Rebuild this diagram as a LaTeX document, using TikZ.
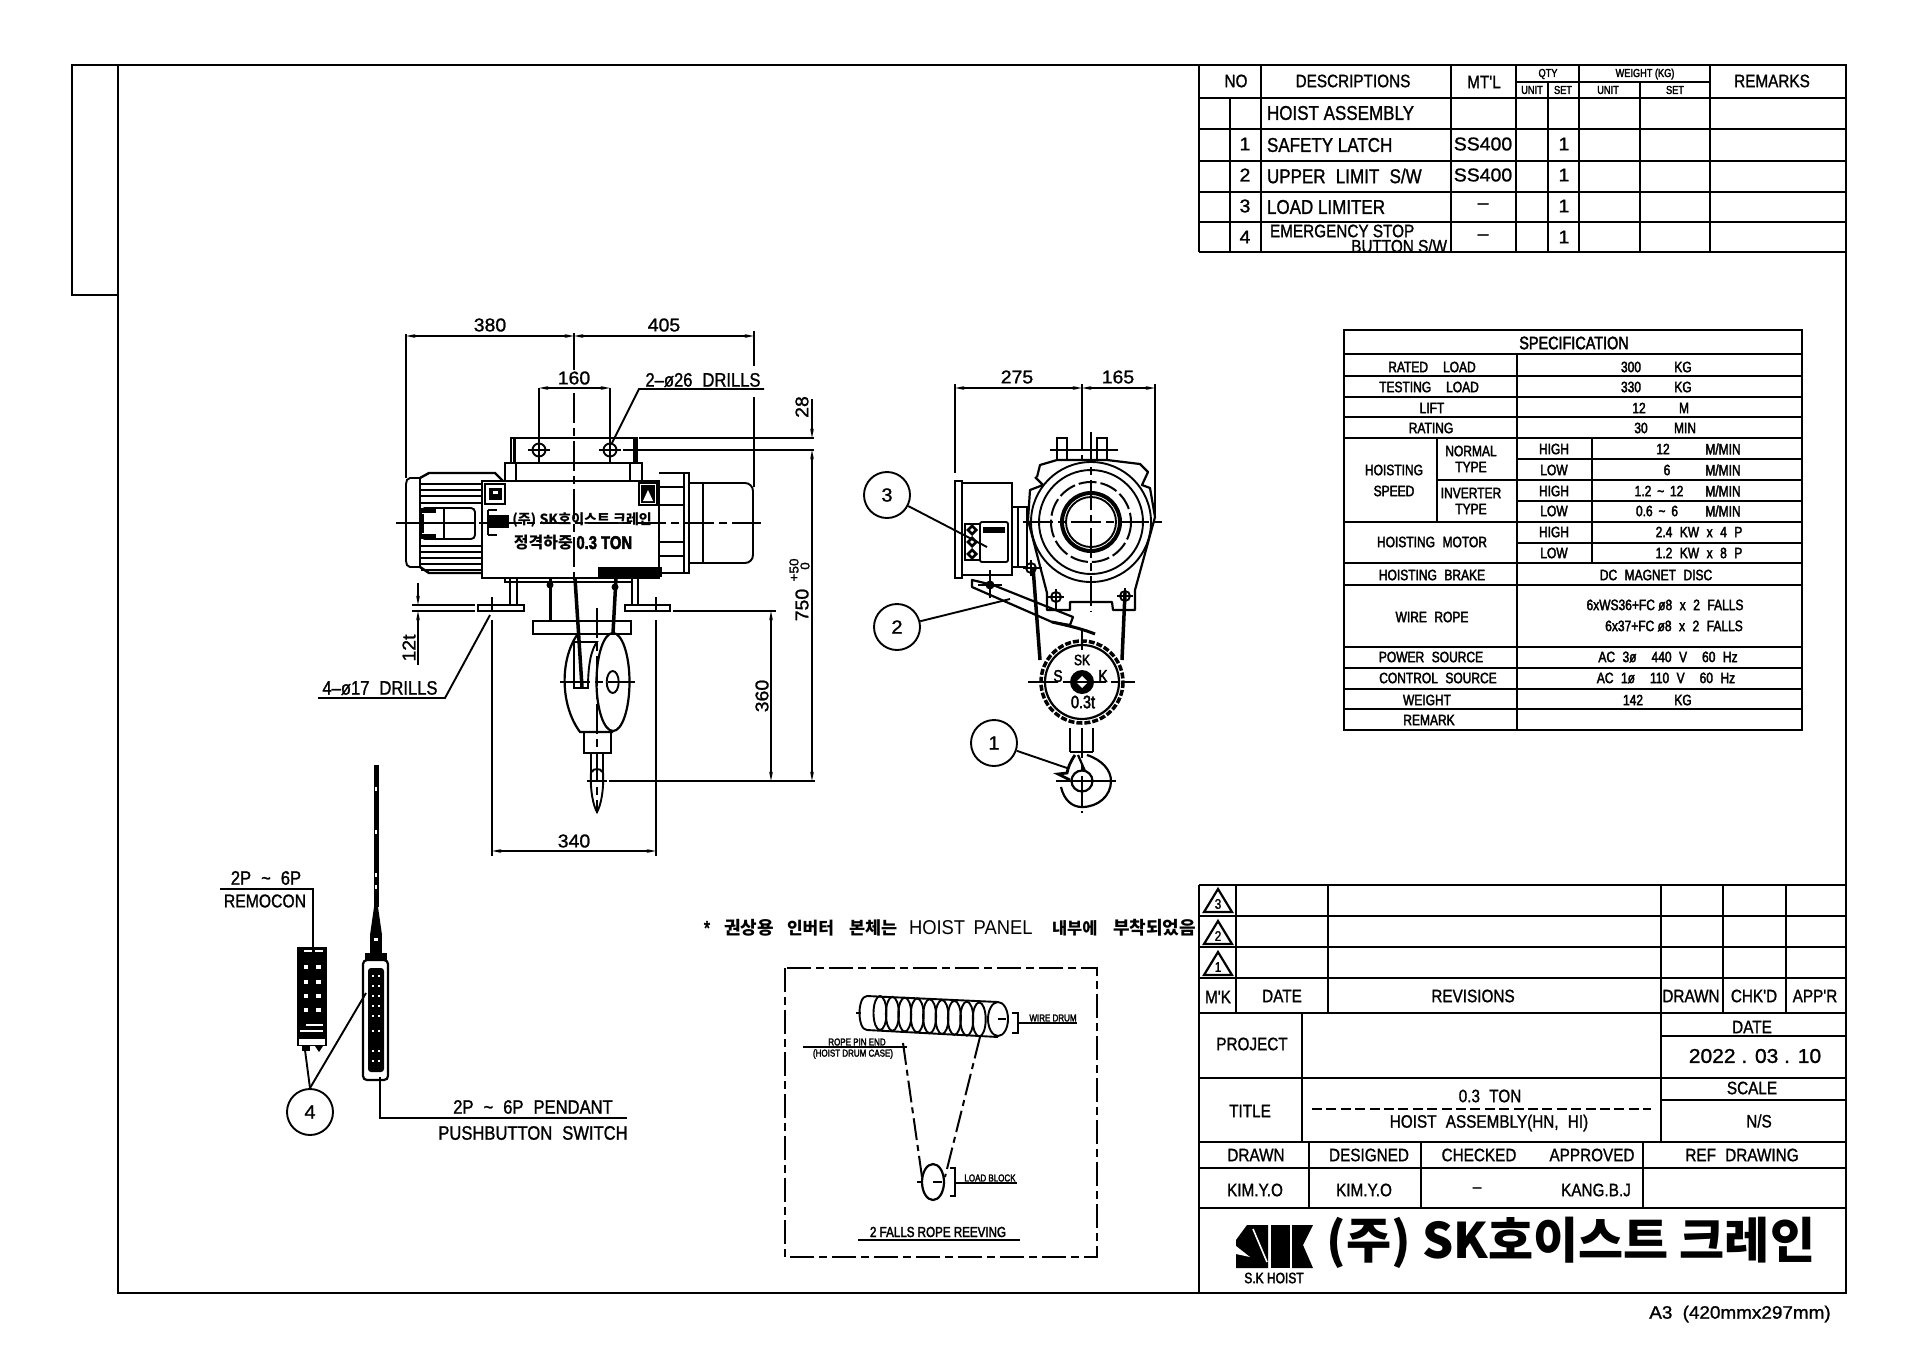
\documentclass[tikz,border=0pt]{standalone}
\usepackage{fontspec}
\usetikzlibrary{arrows.meta}
\newfontfamily\cad[FakeStretch=.85,FakeBold=1.2]{Liberation Sans}
\newfontfamily\cadb[FakeStretch=.8,FakeBold=2.4]{Liberation Sans}
\newfontfamily\cadw[FakeStretch=1.05,FakeBold=1.2]{Liberation Sans}
\newfontfamily\cadr[FakeStretch=.92]{Liberation Sans}
\newfontfamily\kr{Noto Sans CJK KR}
\newcommand{\fz}[1]{\fontsize{#1}{#1}\selectfont}
\newcounter{tn}
\newcommand{\tx}[3][]{\stepcounter{tn}\node[txt,#1] (t\arabic{tn}) at (#2) {#3};}
\tikzset{
  txt/.style={inner sep=0pt,outer sep=0pt,font=\cad\fz{16},text=black},
  dimt/.style={font=\cad\fz{19.5}},
  dimd/.style={font=\cadw\fz{18.5}},
  spect/.style={font=\cadb\fz{15}},
  tiny/.style={font=\cadb\fz{11.5}},
  micro/.style={font=\cadb\fz{10}},
  ttb/.style={font=\cad\fz{18}},
  rowt/.style={font=\cad\fz{20}},
  rot/.style={rotate=90},
  frame/.style={line width=2.8pt,black},
  grid/.style={line width=2.2pt,black},
  ln/.style={line width=1.9pt,black},
  thk/.style={line width=3.2pt,black},
  dm/.style={line width=1.7pt,black,{Stealth[length=9pt,width=3.5pt]}-{Stealth[length=9pt,width=3.5pt]}},
  dmone/.style={line width=1.7pt,black,-{Stealth[length=9pt,width=3.5pt]}},
  ctr/.style={line width=1.6pt,black,dash pattern=on 30pt off 5pt on 8pt off 5pt},
  brk/.style={line width=2pt,black,dash pattern=on 24pt off 5pt on 8pt off 5pt},
  balloon/.style={circle,draw=black,line width=1.9pt,minimum size=46pt,inner sep=0pt,font=\cadw\fz{19}},
}
\begin{document}
\begin{tikzpicture}[x=1pt,y=-1pt]
\path[use as bounding box,fill=white] (0,0) rectangle (1920,1358);
% ---------- frame
\draw[frame] (118,65) rectangle (1846,1293);
\draw[frame] (118,65) -- (72,65) -- (72,295) -- (118,295);
% ---------- parts table
\draw[frame] (1199,252) -- (1199,65) -- (1846,65);
\draw[frame] (1199,252) -- (1846,252);
\foreach \y in {98,129,161,192,222} \draw[grid] (1199,\y) -- (1846,\y);
\draw[grid] (1230,98) -- (1230,252);
\foreach \x in {1261,1451,1516,1710} \draw[grid] (\x,65) -- (\x,252);
\foreach \x in {1548,1579,1640} \draw[grid] (\x,82) -- (\x,252);
\draw[grid] (1579,65) -- (1579,82);
\draw[grid] (1516,82) -- (1710,82);
\tx[ttb]{1236,81}{NO}\tx[ttb]{1353,81}{DESCRIPTIONS}\tx[ttb]{1484,82}{MT'L}\tx[ttb]{1772,81}{REMARKS}
\tx[tiny]{1548,74}{QTY}\tx[tiny]{1645,74}{WEIGHT (KG)}
\tx[tiny]{1532,90}{UNIT}\tx[tiny]{1563,90}{SET}\tx[tiny]{1608,90}{UNIT}\tx[tiny]{1675,90}{SET}
\tx[rowt,anchor=west]{1267,113}{HOIST ASSEMBLY}
\tx[rowt,anchor=west]{1267,145}{SAFETY LATCH}
\tx[rowt,anchor=west]{1267,176}{UPPER\; LIMIT\; S/W}
\tx[rowt,anchor=west]{1267,207}{LOAD LIMITER}
\tx[ttb,anchor=west]{1270,231}{EMERGENCY STOP}
\tx[ttb,anchor=east]{1447,246}{BUTTON S/W}
\tx[dimd]{1245,144}{1}\tx[dimd]{1245,175}{2}\tx[dimd]{1245,206}{3}\tx[dimd]{1245,237}{4}
\tx[dimd]{1483,144}{SS400}\tx[dimd]{1483,175}{SS400}\tx[dimd]{1483,206}{–}\tx[dimd]{1483,237}{–}
\tx[dimd]{1564,144}{1}\tx[dimd]{1564,175}{1}\tx[dimd]{1564,206}{1}\tx[dimd]{1564,237}{1}
% ---------- specification table
\draw[grid] (1344,330) rectangle (1802,730);
\foreach \y in {354,376,397,417,438,522,563,585,647,668,689,709} \draw[grid] (1344,\y) -- (1802,\y);
\draw[grid] (1517,354) -- (1517,730);
\draw[grid] (1437,438) -- (1437,522);
\draw[grid] (1437,480) -- (1517,480);
\foreach \y in {459,480,501,522,543} \draw[grid] (1517,\y) -- (1802,\y);
\draw[grid] (1592,438) -- (1592,563);
\tx[font=\cadb\fz{18}]{1574,343}{SPECIFICATION}
\tx[spect]{1432,367}{RATED\quad LOAD}\tx[spect]{1429,387}{TESTING\quad LOAD}\tx[spect]{1432,408}{LIFT}\tx[spect]{1431,428}{RATING}
\tx[spect]{1631,367}{300}\tx[spect]{1683,367}{KG}\tx[spect]{1631,387}{330}\tx[spect]{1683,387}{KG}
\tx[spect]{1639,408}{12}\tx[spect]{1684,408}{M}\tx[spect]{1641,428}{30}\tx[spect]{1685,428}{MIN}
\tx[spect]{1394,470}{HOISTING}\tx[spect]{1394,491}{SPEED}
\tx[spect]{1471,451}{NORMAL}\tx[spect]{1471,467}{TYPE}\tx[spect]{1471,493}{INVERTER}\tx[spect]{1471,509}{TYPE}
\tx[spect]{1554,449}{HIGH}\tx[spect]{1554,470}{LOW}\tx[spect]{1554,491}{HIGH}\tx[spect]{1554,511}{LOW}\tx[spect]{1554,532}{HIGH}\tx[spect]{1554,553}{LOW}
\tx[spect]{1663,449}{12}\tx[spect]{1667,470}{6}\tx[spect]{1659,491}{1.2 \,\~{}\, 12}\tx[spect]{1657,511}{0.6 \,\~{}\, 6}
\tx[spect]{1723,449}{M/MIN}\tx[spect]{1723,470}{M/MIN}\tx[spect]{1723,491}{M/MIN}\tx[spect]{1723,511}{M/MIN}
\tx[spect]{1699,532}{2.4\; KW\; x\; 4\; P}\tx[spect]{1699,553}{1.2\; KW\; x\; 8\; P}
\tx[spect]{1432,542}{HOISTING\; MOTOR}\tx[spect]{1432,575}{HOISTING\; BRAKE}\tx[spect]{1656,575}{DC\; MAGNET\; DISC}
\tx[spect]{1432,617}{WIRE\; ROPE}
\tx[spect]{1665,605}{6xWS36+FC ø8\; x\; 2\; FALLS}\tx[spect]{1674,626}{6x37+FC ø8\; x\; 2\; FALLS}
\tx[spect]{1431,657}{POWER\; SOURCE}\tx[spect]{1668,657}{AC\; 3ø\quad 440\; V\quad 60\; Hz}
\tx[spect]{1438,678}{CONTROL\; SOURCE}\tx[spect]{1666,678}{AC\; 1ø\quad 110\; V\quad 60\; Hz}
\tx[spect]{1427,700}{WEIGHT}\tx[spect]{1633,700}{142}\tx[spect]{1683,700}{KG}\tx[spect]{1429,720}{REMARK}
% ---------- title block
\draw[frame] (1199,885) -- (1846,885);
\draw[frame] (1199,885) -- (1199,1293);
\foreach \y in {916,947,978,1013,1078,1142,1208} \draw[grid] (1199,\y) -- (1846,\y);
\foreach \x in {1236,1328,1723,1786} \draw[grid] (\x,885) -- (\x,1013);
\draw[grid] (1661,885) -- (1661,1142);
\draw[grid] (1302,1013) -- (1302,1142);
\draw[grid] (1661,1036) -- (1846,1036);
\draw[grid] (1661,1100) -- (1846,1100);
\draw[grid] (1199,1168) -- (1846,1168);
\foreach \x in {1309,1421,1643} \draw[grid] (\x,1142) -- (\x,1208);
\foreach \c/\n in {889/3,921/2,952/1}{
  \draw[line width=2.2pt,line join=miter] (1218,\c) -- (1232,\c+23) -- (1204,\c+23) -- cycle;
  \tx[font=\cad\fz{14}]{1218,\c+15}{\n}
}
\tx[ttb]{1218,997}{M'K}\tx[ttb]{1282,996}{DATE}\tx[ttb]{1473,996}{REVISIONS}\tx[ttb]{1691,996}{DRAWN}\tx[ttb]{1754,996}{CHK'D}\tx[ttb]{1815,996}{APP'R}
\tx[ttb]{1252,1044}{PROJECT}\tx[ttb]{1752,1027}{DATE}\tx[font=\cadw\fz{20}]{1755,1056}{2022 . 03 . 10}
\tx[ttb]{1752,1088}{SCALE}\tx[ttb]{1759,1121}{N/S}\tx[ttb]{1250,1111}{TITLE}\tx[ttb]{1490,1096}{0.3\; TON}
\tx[ttb]{1489,1123}{HOIST\; ASSEMBLY(HN,\; HI)}
\coordinate (dashL) at (1312,1109);\coordinate (dashR) at (1651,1109);
\draw[line width=2pt,dash pattern=on 10pt off 4.4pt] (dashL) -- (dashR);
\tx[ttb]{1256,1155}{DRAWN}\tx[ttb]{1369,1155}{DESIGNED}\tx[ttb]{1479,1155}{CHECKED}\tx[ttb]{1592,1155}{APPROVED}\tx[ttb]{1742,1155}{REF\; DRAWING}
\tx[ttb]{1255,1190}{KIM.Y.O}\tx[ttb]{1364,1190}{KIM.Y.O}\tx[ttb]{1477,1190}{–}\tx[ttb]{1596,1190}{KANG.B.J}
% logo
\fill[black] (1247,1225) -- (1268,1225) -- (1268,1268) -- (1236,1268) -- (1236,1240) -- cycle;
\draw[white,line width=1.6pt] (1253,1229) -- (1267,1262);
\fill[white] (1236,1246) -- (1250,1257) -- (1236,1254) -- cycle;
\fill[black] (1271,1225) rectangle (1290,1268);
\fill[black] (1292,1225) -- (1313,1225) -- (1303,1245) -- (1313,1268) -- (1292,1268) -- cycle;
\tx[font=\cadb\fz{15}]{1274,1278}{S.K HOIST}
\tx[font=\kr\bfseries\fz{49}]{1571,1243}{(주) SK호이스트 크레인}
\tx[font=\cadw\fz{18}]{1740,1314}{A3\; (420mmx297mm)}
% ---------- note
\tx[font=\cadb\fz{20}]{707,928}{*}
\tx[font=\kr\bfseries\fz{18},anchor=west]{724,928}{권상용}
\tx[font=\kr\bfseries\fz{17},anchor=west]{787,928}{인버터}
\tx[font=\kr\bfseries\fz{17.5},anchor=west]{849,928}{본체는}
\tx[font=\cadr\fz{20},anchor=west]{909,928}{HOIST\, PANEL}
\tx[font=\kr\bfseries\fz{16.5},anchor=west]{1052,928}{내부에}
\tx[font=\kr\bfseries\fz{18},anchor=west]{1113,928}{부착되었음}
% ---------- reeving box
\draw[brk] (785,968) rectangle (1097,1257);
\coordinate (dLa) at (867,996);\coordinate (dLb) at (867,1030);
\draw[ln] (998,1002) -- (dLa) .. controls (857,996) and (857,1030) .. (dLb) -- (998,1037);
\draw[ln] (998,1019) ellipse (10 and 17);
\foreach \i in {0,...,8}{
  \pgfmathsetmacro\cx{880+\i*12.4}
  \pgfmathsetmacro\cy{1013+\i*0.8}
  \draw[ln] (\cx,\cy) ellipse (6.5 and 17);
}
\draw[ln] (856,1013) -- (861,1013);
\draw[ln] (998,1019) -- (1006,1019);
\draw[ln] (1012,1013) -- (1018,1013) -- (1018,1033) -- (1012,1033);
\draw[ln] (1018,1023) -- (1077,1023);
\tx[micro]{1053,1018}{WIRE DRUM}
\draw[ln] (803,1047) -- (907,1047);
\tx[micro]{857,1042}{ROPE PIN END}
\tx[micro]{853,1054}{(HOIST DRUM CASE)}
\coordinate (rA) at (903,1043);\coordinate (rB) at (922,1177);\coordinate (rC) at (980,1037);\coordinate (rD) at (945,1177);
\draw[line width=2pt,dash pattern=on 22pt off 5pt on 6pt off 5pt] (rA) -- (rB);
\draw[line width=2pt,dash pattern=on 22pt off 5pt on 6pt off 5pt] (rC) -- (rD);
\draw[line width=2.2pt] (933,1182) ellipse (11 and 18);
\draw[ln] (917,1182) -- (922,1182);
\draw[ln] (933,1182) -- (942,1182);
\draw[ln] (950,1168) -- (955,1168) -- (955,1196) -- (950,1196);
\draw[ln] (955,1183) -- (1017,1183);
\tx[micro]{990,1178}{LOAD BLOCK}
\tx[font=\cadb\fz{14.5}]{938,1232}{2 FALLS ROPE REEVING}
\draw[line width=2.6pt] (858,1240) -- (1020,1240);
% ---------- front view
\draw[dm] (406,336) -- (574,336);
\draw[dm] (574,336) -- (754,336);
\draw[ln] (406,334) -- (406,478);
\draw[ln] (574,333) -- (574,370);
\draw[ln] (754,331) -- (754,366);
\draw[ln] (754,397) -- (754,487);
\tx[dimd]{490,325}{380}\tx[dimd]{664,325}{405}
\draw[dm] (539,388) -- (610,388);
\draw[ln] (539,388) -- (539,463);
\draw[ln] (610,388) -- (610,463);
\tx[dimd]{574,378}{160}
\tx[dimt]{703,380}{2–ø26\; DRILLS}
\coordinate (dr1) at (764,389);\coordinate (dr2) at (639,389);\coordinate (dr3) at (612,443);
\draw[ln] (dr1) -- (dr2) -- (dr3);
% top plate
\draw[line width=2.4pt] (511,438) rectangle (637,463);
\draw[line width=3pt] (514,438) -- (514,463);\draw[line width=3pt] (634,438) -- (634,463);
\foreach \x in {539,610}{
  \draw[ln] (\x,450) circle (6.5);
  \draw[ln] (\x-11,450) -- (\x+11,450);
}
\draw[ln] (639,438) -- (814,438);
\draw[ln] (623,450) -- (814,450);
% columns
\draw[ln] (505,481) -- (505,463) -- (642,463) -- (642,481);
\draw[ln] (516,463) -- (516,481);\draw[ln] (630,463) -- (630,481);
% motor left
\draw[ln,rounded corners=2pt] (420,478) -- (408,478) -- (406,482) -- (406,563) -- (408,567) -- (420,567);
\draw[line width=2.4pt] (420,478) -- (429,473) -- (495,473) -- (503,481);
\draw[line width=2.4pt] (420,567) -- (429,573) -- (482,573);
\draw[ln] (420,478) -- (420,567);
\foreach \y in {484,490,496,503,546,552,558,564,570}{\draw[line width=2.6pt] (421,\y) -- (482,\y);}
\draw[ln,rounded corners=4pt] (421,508) rectangle (475,539);
\draw[ln] (444,508) -- (444,539);\draw[ln] (421,523) -- (475,523);
\fill[black] (421,508) rectangle (436,513);\fill[black] (421,534) rectangle (436,539);
\fill[black] (421,514) rectangle (424,533);
% main box
\draw[line width=2.6pt] (482,481) rectangle (659,578);
% right side
\draw[ln] (659,473) -- (689,473) -- (689,573) -- (659,573);
\draw[ln] (684,473) -- (684,573);
\foreach \y in {487,505,542,556}{\draw[ln] (659,\y) -- (684,\y);}
\draw[ln,rounded corners=8pt] (689,483) -- (753,483) -- (753,563) -- (689,563);
\draw[ln] (703,483) -- (703,563);
% plates
\draw[ln] (485,484) rectangle (505,504);
\fill[black] (489,488) rectangle (502,500);
\fill[white] (493,491) rectangle (498,494);
\draw[ln] (639,483) rectangle (657,505);
\fill[black] (641,485) rectangle (655,503);
\fill[white] (648,490) -- (653,501) -- (643,501) -- cycle;
\fill[black] (598,567) rectangle (662,577);
\draw[ctr] (396,523) -- (761,523);
\draw[ctr] (574,393) -- (574,580);
\fill[black] (487,515) rectangle (509,528);
\draw[ln] (488,510) -- (497,510);\draw[ln] (488,535) -- (497,535);\draw[ln] (488,510) -- (488,535);
\tx[font=\kr\bfseries\fz{14}]{582,520}{(주) SK호이스트 크레인}
\tx[font=\kr\bfseries\fz{16}]{573,543}{정격하중 {\cadb\fz{18.5}0.3 TON}}
% under body
\draw[ln] (505,578) -- (505,582) -- (517,582);
\draw[ln] (510,578) -- (510,605);\draw[ln] (517,578) -- (517,605);
\draw[ln] (632,578) -- (632,605);\draw[ln] (638,578) -- (638,605);
\draw[ln] (517,582) -- (632,582);
\draw[ln] (478,605) rectangle (524,611);
\draw[ln] (625,605) rectangle (670,611);
\draw[line width=3pt] (550,578) -- (550,621);
\fill[black] (550,585) circle (3.5);
\draw[line width=3.5pt] (575,578) -- (582,687);
\draw[line width=3.5pt] (616,578) -- (613,633);
\fill[black] (615,587) circle (3.5);
\draw[line width=2.4pt] (533,621) rectangle (631,634);
\draw[ctr] (597,608) -- (597,813);
% block
\draw[line width=2.2pt] (613,682) ellipse (16.5 and 49);
\draw[line width=2.2pt] (577,635) .. controls (560,660) and (560,705) .. (580,732) -- (613,732);
\draw[ln] (574,642) -- (574,688) -- (588,688) .. controls (588,665) and (591,650) .. (597,642) -- (574,642);
\draw[ln] (612.7,682) ellipse (6 and 11);
\draw[ctr] (560,682) -- (635,682);
\draw[line width=2.2pt] (584,732) rectangle (611,753);
\draw[ln] (591,753) -- (591,775);\draw[ln] (603,753) -- (603,775);
\draw[ln] (591,772) .. controls (590,790) and (593,805) .. (597,812) .. controls (601,805) and (604,790) .. (603,772);
\draw[ln] (592,772) .. controls (592,768) and (602,768) .. (602,772);
\draw[ln] (587,781) -- (607,781);
% dims front lower
\draw[ln] (609,781) -- (815,781);
\draw[ln] (673,611) -- (776,611);
\draw[dm] (771,611) -- (771,781);
\tx[dimd,rot]{762,696}{360}
\draw[dm] (812,450) -- (812,781);
\draw[dmone] (812,399) -- (812,438);
\tx[dimd,rot]{802,407}{28}
\tx[dimd,rot]{802,605}{750}
\tx[font=\cadw\fz{13},rot]{794,570}{+50}
\tx[font=\cadw\fz{13},rot]{805,566}{0}
\draw[ln] (492,597) -- (492,611);\draw[ln] (492,620) -- (492,856);
\draw[ln] (656,597) -- (656,611);\draw[ln] (656,620) -- (656,856);
\draw[dm] (492,851) -- (656,851);
\tx[dimd]{574,841}{340}
% 12t
\draw[ln] (412,605) -- (475,605);\draw[ln] (412,611) -- (475,611);
\draw[dmone] (418,583) -- (418,605);
\draw[dmone] (418,665) -- (418,611);
\tx[dimd,rot]{409,648}{12t}
\tx[dimt]{380,688}{4–ø17\; DRILLS}
\coordinate (d4a) at (318,698);\coordinate (d4b) at (445,698);\coordinate (d4c) at (490,615);
\draw[ln] (d4a) -- (d4b) -- (d4c);
% ---------- side view
\draw[dm] (955,388) -- (1082,388);
\draw[dm] (1082,388) -- (1155,388);
\draw[ln] (955,384) -- (955,473);
\draw[ln] (1155,384) -- (1155,517);
\draw[ln] (1082,384) -- (1082,420);
\tx[dimd]{1017,377}{275}\tx[dimd]{1118,377}{165}
% top bracket
\draw[ln] (1067,460) -- (1067,438) -- (1057,438) -- (1057,460);
\draw[ln] (1097,460) -- (1097,438) -- (1107,438) -- (1107,460);
\draw[ln] (1050,450) -- (1118,450);
\draw[ctr] (1082,420) -- (1082,460);
% housing
\draw[line width=2.2pt,line join=round] (1037,477) -- (1040,465) -- (1057,460) -- (1107,460) -- (1140,464) -- (1148,472) -- (1142,485) -- (1150,488) -- (1155,517) -- (1135,590) -- (1135,610) -- (1113,610) -- (1112,602) -- (1070,602) -- (1070,610) -- (1047,610) -- (1047,593) -- (1028,520) -- (1030,490) -- (1043,485) -- (1035,477);
\draw[ln] (1091,522) circle (60);
\draw[ln] (1091,522) circle (52);
\draw[line width=2pt,dash pattern=on 18pt off 4pt] (1091,522) circle (40);
\draw[line width=4pt] (1091,522) circle (29);
\draw[ln] (1091,522) circle (25);
\draw[ctr] (1023,522) -- (1165,522);
\draw[ctr] (1091,432) -- (1091,612);
\draw[ln] (1056,597) circle (5);\draw[ln] (1125,596) circle (5);\draw[ln] (1031,568) circle (5);
\draw[ln] (1048,597) -- (1064,597);\draw[ln] (1056,589) -- (1056,610);
\draw[ln] (1117,596) -- (1133,596);\draw[ln] (1125,588) -- (1125,610);
\draw[ln] (1023,568) -- (1042,568);\draw[ln] (1031,560) -- (1031,576);
% limiter box
\draw[line width=2.4pt] (955,481) rectangle (962,578);
\draw[line width=2.4pt] (962,483) rectangle (1012,575);
\draw[ln] (1012,507) -- (1027,507) -- (1027,567) -- (1012,567);
\draw[ln] (1018,507) -- (1018,567);
\draw[ln,rounded corners=2pt] (980,522) rectangle (1008,562);
\fill[black] (983,527) rectangle (1005,533);
\draw[ln] (965,524) rectangle (980,560);
\foreach \y in {530,542,554}{
  \fill[black] (972,\y-6) -- (978,\y) -- (972,\y+6) -- (966,\y) -- cycle;
  \fill[white] (972,\y-2) -- (974,\y) -- (972,\y+2) -- (970,\y) -- cycle;
}
% lever
\draw[line width=2.2pt,line join=round] (972,580) -- (993,585) -- (1073,617) -- (1070,625) -- (1052,622) -- (972,587) -- cycle;
\draw[line width=3pt] (1052,622) .. controls (1065,625) and (1080,628) .. (1095,634);
\fill[black] (990,585) circle (4.5);
\draw[ln] (978,585) -- (1002,585);\draw[ln] (990,570) -- (990,598);
% ropes
\draw[line width=3.5pt] (1033,567) -- (1040,660);
\draw[line width=3.5pt] (1125,593) -- (1122,660);
% load block
\draw[line width=3.5pt,dash pattern=on 6pt off 2pt] (1082,682) circle (41);
\draw[line width=2.2pt] (1082,682) circle (37);
\fill[black] (1082,682) circle (12);
\fill[white] (1082,676) -- (1088,682) -- (1082,688) -- (1076,682) -- cycle;
\draw[ctr] (1028,682) -- (1135,682);
\draw[ln] (1082,630) -- (1082,650);
\tx[font=\cadb\fz{17}]{1058,676}{S}\tx[font=\cadb\fz{17}]{1103,676}{K}
\tx[font=\cadb\fz{15}]{1082,660}{SK}\tx[font=\cadb\fz{18}]{1083,702}{0.3t}
% hook
\draw[line width=2.2pt] (1070,752) -- (1070,728);\draw[line width=2.2pt] (1093,752) -- (1093,728);\draw[line width=2.2pt] (1070,752) -- (1093,752);
\draw[line width=2.2pt] (1087,755) .. controls (1102,760) and (1111,770) .. (1111,781) .. controls (1111,796) and (1098,807) .. (1082,807) .. controls (1072,807) and (1064,800) .. (1061,787);
\draw[line width=2.2pt] (1078,755) -- (1085,771);
\draw[line width=2.2pt] (1082,781) circle (10.5);
\draw[line width=2.8pt] (1075,755) .. controls (1070,762) and (1068,768) .. (1067,773) -- (1058,774) -- (1070,780);
\draw[ln] (1056,781) -- (1116,781);
\draw[ctr] (1082,728) -- (1082,813);
% balloons
\node[balloon] (b3) at (887,495) {3};
\node[balloon] (b2) at (897,627) {2};
\node[balloon] (b1) at (994,743) {1};
\node[balloon] (b4) at (310,1112) {4};
\coordinate (e3) at (987,547);\coordinate (e2) at (1010,599);\coordinate (e1) at (1067,768);
\draw[ln] (b3) -- (e3);\draw[ln] (b2) -- (e2);\draw[ln] (b1) -- (e1);
% ---------- remocon
\draw[ln] (220,889) -- (313,889) -- (313,947);
\tx[dimt]{266,878}{2P\; \~{}\; 6P}\tx[font=\cad\fz{18.5}]{265,901}{REMOCON}
\fill[black] (297,947) rectangle (327,1046);
\fill[white] (299,1039) rectangle (325,1045);
\foreach \y in {965,980,994,1008}{
  \fill[white] (304,\y) rectangle (308,\y+4);
  \fill[white] (316,\y) rectangle (321,\y+4);
}
\fill[white] (304,950) rectangle (312,952);\fill[white] (315,950) rectangle (323,952);
\fill[white] (306,1024) rectangle (323,1026);\fill[white] (300,1030) rectangle (323,1032);
\fill[black] (302,1046) rectangle (310,1051);\fill[black] (315,1046) -- (323,1046) -- (319,1052) -- cycle;
\coordinate (r4) at (305,1050);\coordinate (p4) at (366,993);
\draw[ln] (b4.north) -- (r4);\draw[ln] (b4.north) -- (p4);
% ---------- pendant
\draw[line width=5pt,black] (376,765) -- (376,907);
\foreach \y in {787,830,873,885}{\fill[white] (375,\y) rectangle (377,\y+4);}
\fill[black] (374,907) -- (378,907) -- (382,935) -- (370,935) -- cycle;
\fill[black] (365,953) -- (387,953) -- (387,960) -- (365,960) -- cycle;
\fill[black] (370,935) rectangle (382,955);
\fill[white] (374,938) rectangle (378,941);
\draw[line width=2.2pt,rounded corners=4pt] (363,960) rectangle (388,1080);
\fill[black,rounded corners=3pt] (368,968) rectangle (384,1072);
\fill[white] (368,962) rectangle (384,966);
\foreach \y in {975,985,995,1005,1015,1030,1050,1060}{
  \fill[white] (372,\y) rectangle (374,\y+2);\fill[white] (378,\y) rectangle (380,\y+2);
}
\draw[ln] (380,1077) -- (380,1118) -- (627,1118);
\tx[dimt]{533,1107}{2P\; \~{}\; 6P\; PENDANT}\tx[dimt]{533,1133}{PUSHBUTTON\; SWITCH}
\end{tikzpicture}
\end{document}
